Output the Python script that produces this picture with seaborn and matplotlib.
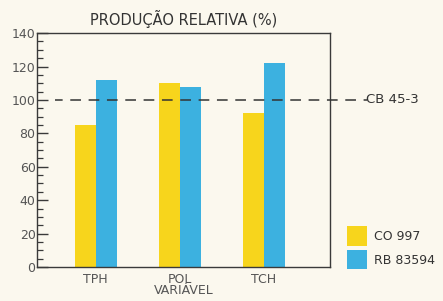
import pandas as pd
import matplotlib
matplotlib.use("Agg")
import matplotlib.pyplot as plt
import matplotlib.transforms as mtransforms
from matplotlib.ticker import MultipleLocator
from matplotlib.patches import Patch
import seaborn as sns

# data
variables = ["TPH", "POL", "TCH"]
co_997 = [85, 110, 92]
rb_83594 = [112, 108, 122]
series_names = ["CO 997", "RB 83594"]
reference_level = 100  # CB 45-3
reference_name = "CB 45-3"

bg = "#fbf8ee"
colors = ["#f7d51c", "#3cb1e0"]
ink = "#3a3a3a"
label_col = "#555555"

df = pd.DataFrame({
    "variavel": variables * 2,
    "valor": co_997 + rb_83594,
    "cultivar": [series_names[0]] * 3 + [series_names[1]] * 3,
})

sns.set_style("white")
plt.rcParams["font.family"] = ["DejaVu Sans"]

fig = plt.figure(figsize=(4.43, 3.01), dpi=100, facecolor=bg)
ax = fig.add_axes([0.0835, 0.113, 0.662, 0.777], facecolor=bg)

sns.barplot(data=df, x="variavel", y="valor", hue="cultivar", order=variables,
            hue_order=series_names, palette=colors, width=0.5, saturation=1,
            linewidth=0, ax=ax, legend=False)

ax.set_ylim(0, 140)
ax.set_xlim(-0.70, 2.79)
ax.yaxis.set_major_locator(MultipleLocator(20))
ax.yaxis.set_minor_locator(MultipleLocator(5))
ax.tick_params(axis="y", which="both", left=True, right=False)
ax.tick_params(axis="y", which="major", direction="in", length=8, width=1.0,
               color=ink, labelsize=9, labelcolor=label_col, pad=1)
ax.tick_params(axis="y", which="minor", direction="in", length=4.5, width=0.9, color=ink)
ax.tick_params(axis="x", length=0, labelsize=9, labelcolor=label_col, pad=4)
for s in ax.spines.values():
    s.set_color(ink)
    s.set_linewidth(1.0)
    s.set_visible(True)

ax.set_xlabel("VARIÁVEL", fontsize=9, color=label_col, labelpad=-1)
ax.set_ylabel("")
ax.set_title("PRODUÇÃO RELATIVA (%)", fontsize=10.5, color="#333333", pad=6)

# dashed reference line running past the right spine
trans = mtransforms.blended_transform_factory(ax.transAxes, ax.transData)
ax.plot([0.06, 1.126], [reference_level, reference_level], transform=trans,
        color="#333333", linestyle=(2, (7, 5)), linewidth=1.1, clip_on=False, zorder=5)
ax.text(1.122, reference_level, reference_name, transform=trans, fontsize=9.5,
        color="#333333", va="center", ha="left")

handles = [Patch(facecolor=c, edgecolor="none") for c in colors]
fig.legend(handles, series_names, loc="lower left", bbox_to_anchor=(0.783, 0.105),
           frameon=False, fontsize=9, handlelength=1.65, handleheight=2.0,
           handletextpad=0.5, labelspacing=0.35, labelcolor="#333333",
           borderpad=0.0, borderaxespad=0.0)

fig.savefig("out.png", dpi=100, facecolor=bg)
